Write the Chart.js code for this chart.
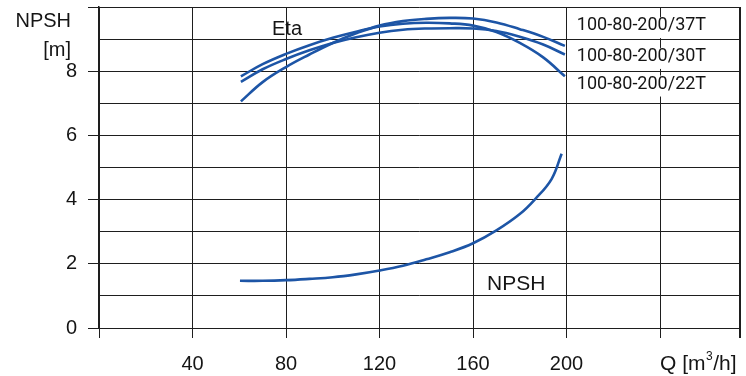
<!DOCTYPE html>
<html><head><meta charset="utf-8">
<style>html,body{margin:0;padding:0;background:#fff;overflow:hidden}#wrap{width:746px;height:376px;position:relative}</style>
<script src="https://cdn.jsdelivr.net/npm/chart.js@4.4.1/dist/chart.umd.min.js"></script>
</head><body><div id="wrap"><canvas id="c" width="746" height="376"></canvas></div>
<script>
// ---- data ----
const etaQ    = [60.7, 70, 80, 90, 100, 110, 120, 130, 140, 150, 160, 170, 180, 190, 199.3];
const eta37T  = [7.06, 7.66, 8.13, 8.52, 8.88, 9.18, 9.42, 9.56, 9.63, 9.66, 9.64, 9.52, 9.31, 9.07, 8.79];
const eta30T  = [7.67, 8.06, 8.38, 8.65, 8.88, 9.06, 9.20, 9.29, 9.33, 9.34, 9.33, 9.25, 9.07, 8.83, 8.52];
const eta22T  = [7.84, 8.22, 8.54, 8.81, 9.04, 9.23, 9.39, 9.48, 9.51, 9.49, 9.42, 9.22, 8.88, 8.43, 7.84];
const npshQ   = [60.3, 70, 80, 90, 100, 110, 120, 130, 140, 150, 160, 170, 180, 186.5, 193.6, 197.9];
const npshVal = [1.47, 1.47, 1.49, 1.53, 1.58, 1.67, 1.79, 1.94, 2.14, 2.36, 2.64, 3.04, 3.55, 4.01, 4.64, 5.43];
const xTicks  = [0, 40, 80, 120, 160, 200, 240, 274.2];
const xLabels = ['', '40', '80', '120', '160', '200', '', ''];
const yLabels = ['0', '', '2', '', '4', '', '6', '', '8', '', ''];
const seriesNames = ['100-80-200/37T', '100-80-200/30T', '100-80-200/22T'];

const BLUE = '#1d55a6';
const GRID = '#1e1e1e';
const TXT = '#151515';
const SANS = '"Liberation Sans", Arial, sans-serif';

function pts(xs, ys){ return xs.map((v,i)=>({x:v, y:ys[i]})); }
function ds(label, data){
  return {label, data, showLine:true, borderColor:BLUE, borderWidth:2.6, pointRadius:0,
          fill:false, tension:0.4};
}
function noPad(s){ s.paddingTop = 0; s.paddingBottom = 0; s.paddingLeft = 0; s.paddingRight = 0; }

const annot = {
  id:'annot',
  afterDraw(chart){
    const {ctx, chartArea:ca, scales:{x, y}} = chart;
    ctx.save();
    // right frame line with its tick
    ctx.strokeStyle = GRID; ctx.lineWidth = 2;
    ctx.beginPath(); ctx.moveTo(ca.right, ca.top); ctx.lineTo(ca.right, ca.bottom + 10); ctx.stroke();

    ctx.fillStyle = TXT;
    ctx.textBaseline = 'middle';
    ctx.font = '20px ' + SANS;
    // y-axis title
    ctx.textAlign = 'right';
    ctx.fillText('NPSH', ca.left - 28, ca.top + 14);
    ctx.fillText('[m]', ca.left - 28, ca.top + 43);
    // curve captions
    ctx.textAlign = 'left';
    ctx.fillText('Eta', x.getPixelForValue(74), y.getPixelForValue(9.3));
    ctx.font = '21px ' + SANS;
    ctx.fillText('NPSH', x.getPixelForValue(166), y.getPixelForValue(1.36));
    // x-axis title, starting at the 240 grid line
    const qx = x.getPixelForValue(240), qy = ca.bottom + 36;
    let s = 'Q [m';
    ctx.fillText(s, qx, qy);
    let w = ctx.measureText(s).width;
    ctx.font = '12px ' + SANS;
    ctx.fillText('3', qx + w + 0.5, qy - 7);
    const w3 = ctx.measureText('3').width;
    ctx.font = '21px ' + SANS;
    ctx.fillText('/h]', qx + w + w3 + 1, qy);
    // series labels with white backing
    ctx.font = '18px Roboto, sans-serif';
    const lx = x.getPixelForValue(204.4);
    const ly = [9.42, 8.46, 7.6];
    seriesNames.forEach((n, i) => {
      const cy = y.getPixelForValue(ly[i]);
      const tw = ctx.measureText(n).width;
      ctx.fillStyle = '#fff';
      ctx.fillRect(lx - 2, cy - 8.5, tw + 4, 21);
      ctx.fillStyle = TXT;
      ctx.fillText(n, lx, cy);
    });
    ctx.restore();
  }
};

new Chart(document.getElementById('c'), {
  type:'scatter',
  data:{ datasets:[
    ds(seriesNames[0], pts(etaQ, eta37T)),
    ds(seriesNames[1], pts(etaQ, eta30T)),
    ds(seriesNames[2], pts(etaQ, eta22T)),
    ds('NPSH', pts(npshQ, npshVal))
  ]},
  options:{
    responsive:false, animation:false, devicePixelRatio:1,
    layout:{padding:{top:7, right:6, left:0, bottom:0}},
    plugins:{legend:{display:false}, tooltip:{enabled:false}},
    scales:{
      x:{
        type:'linear', min:0, max:274.2,
        afterBuildTicks(s){ s.ticks = xTicks.map(v=>({value:v})); },
        afterFit(s){ s.height = 48; noPad(s); },
        grid:{color:GRID, lineWidth:1, tickLength:10, tickColor:GRID},
        border:{color:GRID, width:1},
        ticks:{
          autoSkip:false, maxRotation:0, padding:14, color:TXT,
          font:{family:SANS, size:20},
          callback(v, i){ return xLabels[i]; }
        }
      },
      y:{
        type:'linear', min:0, max:10,
        afterBuildTicks(s){ s.ticks = yLabels.map((_, i)=>({value:i})); },
        afterFit(s){ s.width = 99; noPad(s); },
        grid:{color:GRID, lineWidth:1, tickLength:11,
              tickColor:(c)=> (c.tick && c.tick.value % 2 === 0) ? GRID : 'rgba(0,0,0,0)'},
        border:{color:GRID, width:1.5},
        ticks:{
          autoSkip:false, padding:11, color:TXT,
          font:{family:SANS, size:20},
          callback(v, i){ return yLabels[i]; }
        }
      }
    }
  },
  plugins:[annot]
});
</script></body></html>
